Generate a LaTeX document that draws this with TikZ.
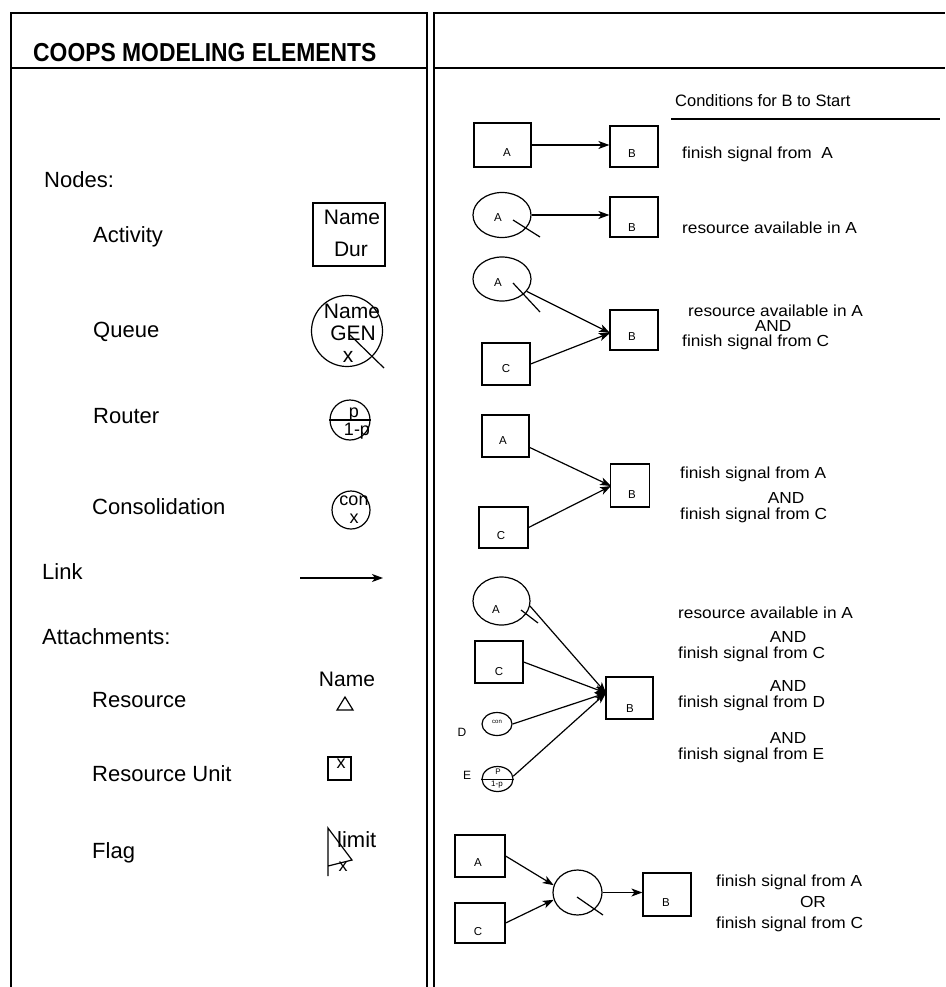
\documentclass[tikz,border=0pt]{standalone}
\usepackage{fontspec}
\setmainfont{Liberation Sans}
\newfontfamily\headfont[FakeStretch=0.88]{Liberation Sans}
\newfontfamily\condfont[FakeStretch=1.08]{Liberation Sans}
\usetikzlibrary{arrows.meta,shapes.geometric}
\begin{document}
\begin{tikzpicture}[x=1pt,y=-1pt,
  frame/.style={line width=1.2pt},
  thin/.style={line width=1.2pt},
  lbl/.style={anchor=base west,inner sep=0,font=\fontsize{22}{26}\selectfont},
  cond/.style={anchor=base west,inner sep=0,font=\condfont\fontsize{16}{19}\selectfont},
  andt/.style={anchor=base,inner sep=0,font=\condfont\fontsize{16}{19}\selectfont},
  sym/.style={anchor=base,inner sep=0,font=\fontsize{21}{24}\selectfont},
  ssym/.style={anchor=base,inner sep=0,font=\fontsize{18}{21}\selectfont},
  bx/.style={draw,line width=1.2pt,rectangle,inner sep=0},
  el/.style={draw,line width=1.2pt,ellipse,inner sep=0},
  circ/.style={draw,line width=1.2pt,circle,inner sep=0},
  ltr/.style={inner sep=0,font=\fontsize{11.5}{13}\selectfont},
  lnk/.style={line width=1.2pt,-{Stealth[length=11pt,width=8pt,inset=3pt]}},
]
\useasboundingbox (0,0) rectangle (945,987);
\fill[white] (0,0) rectangle (945,987);

% frames
\draw[frame] (11,987) -- (11,13) -- (427,13) -- (427,987);
\draw[frame] (11,68) -- (427,68);
\draw[frame] (434,987) -- (434,13) -- (945,13);
\draw[frame] (434,68) -- (945,68);

% header
\node[anchor=base west,inner sep=0,font=\headfont\bfseries\fontsize{26}{30}\selectfont] (title) at (33,62) {COOPS MODELING ELEMENTS};

% left labels
\node[lbl] (nodes) at (44,187) {Nodes:};
\node[lbl] (activity) at (93,242) {Activity};
\node[lbl] (queuel) at (93,337) {Queue};
\node[lbl] (routerl) at (93,423) {Router};
\node[lbl] (consl) at (92,514) {Consolidation};
\node[lbl] (linkl) at (42,579) {Link};
\node[lbl] (attach) at (42,644) {Attachments:};
\node[lbl] (resl) at (92,707) {Resource};
\node[lbl] (rul) at (92,781) {Resource Unit};
\node[lbl] (flagl) at (92,858) {Flag};

% activity symbol
\node[bx,minimum width=72pt,minimum height=63pt] (act) at (349,234.5) {};
\node[sym] (actname) at (352,224) {Name};
\node[sym] (actdur) at (351,256) {Dur};

% queue symbol
\node[circ,minimum size=71pt] (queue) at (347,331) {};
\node[sym] (qname) at (352,318) {Name};
\node[sym] (qgen) at (353,340) {GEN};
\node[sym] (qx) at (348,362) {x};
\draw[thin] (350,335) -- (384,368);

% router symbol
\node[circ,minimum size=40pt] (router) at (350,420) {};
\draw[thin] (router.west) -- (router.east);
\node[ssym] (rp) at (354,417) {p};
\node[ssym] (r1p) at (357,435) {1-p};

% consolidation symbol
\node[circ,minimum size=38pt] (cons) at (351,510) {};
\node[ssym] (ccon) at (354,505) {con};
\node[ssym] (cx) at (354,523) {x};

% link
\coordinate (l1) at (300,578);
\coordinate (l2) at (383,578);
\draw[lnk] (l1) -- (l2);

% resource
\node[sym] (resname) at (347,686) {Name};
\draw[thin] (345,697) -- (353,710) -- (337,710) -- cycle;

% resource unit
\node[bx,minimum width=23pt,minimum height=23pt] (ru) at (339.5,768.5) {};
\node[ssym] (rux) at (341,768) {x};

% flag
\draw[thin] (328,876) -- (328,828) -- (352,860) -- (328,866);
\node[lbl] (limit) at (337,847) {limit};
\node[ssym] (fx) at (343,871) {x};

% right panel heading
\node[anchor=base west,inner sep=0,font=\fontsize{16.5}{20}\selectfont] (condh) at (675,107) {Conditions for B to Start};
\coordinate (u1) at (671,119);
\coordinate (u2) at (940,119);
\draw[thin] (u1) -- (u2);

% row 1
\node[bx,minimum width=57pt,minimum height=44pt] (A1) at (502.5,145) {};
\node[ltr] (A1t) at (507,153) {A};
\node[bx,minimum width=48pt,minimum height=41pt] (B1) at (634,146.5) {};
\node[ltr] (B1t) at (632,154) {B};
\draw[lnk] (A1.east) -- (B1.west |- A1.east);
\node[cond] (c1) at (682,159) {finish signal from\ \ A};

% row 2
\node[el,minimum width=58pt,minimum height=45pt] (QA2) at (502,215) {};
\node[ltr] (QA2t) at (498,218) {A};
\draw[thin] (513,220) -- (540,237);
\node[bx,minimum width=48pt,minimum height=40pt] (B2) at (634,217) {};
\node[ltr] (B2t) at (632,228) {B};
\draw[lnk] (QA2.east) -- (B2.west |- QA2.east);
\node[cond] (c2) at (682,233) {resource available in A};

% row 3
\node[el,minimum width=58pt,minimum height=44pt] (QA3) at (502,279) {};
\node[ltr] (QA3t) at (498,283) {A};
\draw[thin] (513,283) -- (540,312);
\node[bx,minimum width=48pt,minimum height=42pt] (C3) at (506,364) {};
\node[ltr] (C3t) at (506,369) {C};
\node[bx,minimum width=48pt,minimum height=40pt] (B3) at (634,330) {};
\node[ltr] (B3t) at (632,337) {B};
\coordinate (B3in) at (610,333);
\draw[lnk] (QA3) -- (B3in);
\draw[lnk] (C3.east) -- (B3in);
\node[cond] (c3a) at (688,316) {resource available in A};
\node[andt] (c3b) at (773,331) {AND};
\node[cond] (c3c) at (682,346) {finish signal from C};

% row 4
\node[bx,minimum width=47pt,minimum height=42pt] (A4) at (505.5,436) {};
\node[ltr] (A4t) at (503,441) {A};
\node[bx,minimum width=49pt,minimum height=41pt] (C4) at (503.5,527.5) {};
\node[ltr] (C4t) at (501,536) {C};
\node[bx,minimum width=39pt,minimum height=43pt] (B4) at (630,485.5) {};
\node[ltr] (B4t) at (632,495) {B};
\coordinate (B4in) at (611,486);
\draw[lnk] (A4) -- (B4in);
\draw[lnk] (C4.east) -- (B4in);
\node[cond] (c4a) at (680,478) {finish signal from A};
\node[andt] (c4b) at (786,503) {AND};
\node[cond] (c4c) at (680,519) {finish signal from C};

% row 5
\node[el,minimum width=57pt,minimum height=48pt] (QA5) at (501.5,601) {};
\node[ltr] (QA5t) at (496,610) {A};
\draw[thin] (521,610) -- (538,623);
\node[bx,minimum width=48pt,minimum height=42pt] (C5) at (499,662) {};
\node[ltr] (C5t) at (499,672) {C};
\node[ltr,font=\fontsize{12}{14}\selectfont] (Dl) at (462,732) {D};
\node[el,minimum width=30pt,minimum height=23pt] (D5) at (497,724) {};
\node[inner sep=0,font=\fontsize{6}{7}\selectfont] (D5t) at (497,722) {con};
\node[ltr,font=\fontsize{12}{14}\selectfont] (El) at (467,775) {E};
\node[el,minimum width=31pt,minimum height=25pt] (E5) at (497.5,779) {};
\draw[line width=1pt] (E5.west) -- (E5.east);
\node[inner sep=0,font=\fontsize{8}{9}\selectfont] (E5p) at (498,772) {P};
\node[inner sep=0,font=\fontsize{8}{9}\selectfont] (E5q) at (497,785) {1-p};
\node[bx,minimum width=47pt,minimum height=42pt] (B5) at (629.5,698) {};
\node[ltr] (B5t) at (630,709) {B};
\coordinate (B5in) at (606,693);
\draw[lnk] (QA5.-10) -- (B5in);
\draw[lnk] (C5.east) -- (B5in);
\draw[lnk] (D5.east) -- (B5in);
\draw[lnk] (E5.10) -- (B5in);
\node[cond] (c5a) at (678,618) {resource available in A};
\node[andt] (c5b) at (788,642) {AND};
\node[cond] (c5c) at (678,658) {finish signal from C};
\node[andt] (c5d) at (788,691) {AND};
\node[cond] (c5e) at (678,707) {finish signal from D};
\node[andt] (c5f) at (788,743) {AND};
\node[cond] (c5g) at (678,759) {finish signal from E};

% row 6
\node[bx,minimum width=50pt,minimum height=42pt] (A6) at (480,856) {};
\node[ltr] (A6t) at (478,863) {A};
\node[bx,minimum width=50pt,minimum height=40pt] (C6) at (480,923) {};
\node[ltr] (C6t) at (478,932) {C};
\node[el,minimum width=49pt,minimum height=45pt] (Q6) at (577.5,892.5) {};
\draw[thin] (577,897) -- (603,915);
\node[bx,minimum width=48pt,minimum height=43pt] (B6) at (667,894.5) {};
\node[ltr] (B6t) at (666,903) {B};
\draw[lnk] (A6.east) -- (Q6.163);
\draw[lnk] (C6.east) -- (Q6.197);
\draw[lnk] (Q6.east) -- (B6.west |- Q6.east);
\node[cond] (c6a) at (716,886) {finish signal from A};
\node[andt] (c6b) at (813,907) {OR};
\node[cond] (c6c) at (716,928) {finish signal from C};
\end{tikzpicture}
\end{document}
